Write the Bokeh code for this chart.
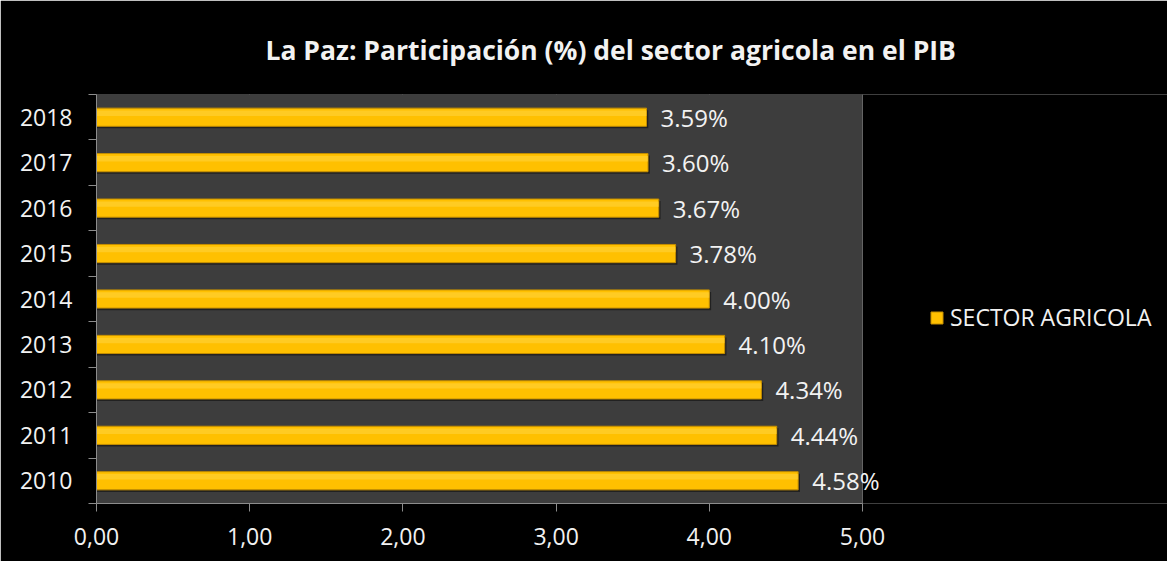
from bokeh.plotting import figure
from bokeh.models import FixedTicker, Legend, LegendItem, ColumnDataSource, Title
from bokeh.embed import file_html
from bokeh.resources import INLINE

years = ["2010", "2011", "2012", "2013", "2014", "2015", "2016", "2017", "2018"]
values = [4.58, 4.44, 4.34, 4.10, 4.00, 3.78, 3.67, 3.60, 3.59]
x_ticks = [0, 1, 2, 3, 4, 5]
series_name = "SECTOR AGRICOLA"
title_text = "La Paz: Participación  (%) del sector agricola  en el PIB"

FONT = "Open Sans"
WHITE = "#F2F2F2"
GRID = "#8C8C8C"
PLOT_BG = "#3D3D3D"

W, H = 1167, 561
LEFT, TOP, BOTTOM = 96, 94, 58
AXIS_W = 766  # pixel width of the 0..5 axis
frame_w = W - LEFT
x_max = x_ticks[-1]
x_end = x_max * frame_w / AXIS_W
BAR_H = 0.4

ypos = [i + 0.5 for i in range(len(years))]
src = ColumnDataSource(dict(y=ypos, v=values, lab=[f"{v:.2f}%" for v in values],
                            ys=[y - 0.045 for y in ypos], vs=[v + 0.012 for v in values],
                            yh=[y + BAR_H * 0.22 for y in ypos]))

p = figure(width=W, height=H, x_range=(0, x_end), y_range=(0, len(years)),
           output_backend="svg", toolbar_location=None,
           min_border_left=LEFT, min_border_right=0, min_border_top=TOP, min_border_bottom=BOTTOM)
p.background_fill_color = "#000000"
p.border_fill_color = "#000000"
p.outline_line_color = None

t = Title(text=title_text, align="left", offset=169, text_color=WHITE,
          text_font=FONT, text_font_size="26.5px", text_font_style="bold", standoff=54)
p.add_layout(t, "above")

# plot area (only over the 0..5 axis span)
p.quad(left=0, right=x_max, bottom=0, top=len(years), fill_color=PLOT_BG, line_color=None)

p.xgrid.ticker = FixedTicker(ticks=x_ticks)
p.xgrid.grid_line_color = GRID
p.ygrid.grid_line_color = None
p.xgrid.level = "underlay"

# shadow, bar, highlight
p.hbar(y="ys", right="vs", left=0, height=BAR_H, source=src,
       fill_color="#000000", fill_alpha=0.45, line_color=None)
r = p.hbar(y="y", right="v", left=0, height=BAR_H, source=src,
           fill_color="#FFC000", line_color="#C48E00", line_width=1)
p.hbar(y="yh", right="v", left=0, height=BAR_H * 0.3, source=src,
       fill_color="#FFD23A", fill_alpha=0.6, line_color=None)

p.text(x="v", y="y", text="lab", source=src, x_offset=14, text_baseline="middle",
       text_color=WHITE, text_font_size="24px", text_font={"value": FONT})

# axes
p.xaxis.ticker = FixedTicker(ticks=x_ticks)
p.xaxis.bounds = (0, x_max)
p.xaxis.major_label_overrides = {t_: f"{t_:.2f}".replace(".", ",") for t_ in x_ticks}
p.yaxis.ticker = FixedTicker(ticks=ypos, minor_ticks=list(range(len(years) + 1)))
p.yaxis.major_label_overrides = {y_: yr for y_, yr in zip(ypos, years)}
for ax in (p.xaxis, p.yaxis):
    ax.axis_line_color = GRID
    ax.major_tick_line_color = GRID
    ax.minor_tick_line_color = GRID
    ax.major_label_text_color = WHITE
    ax.major_label_text_font = FONT
    ax.major_label_text_font_size = "23px"
    ax.major_tick_in = 0
    ax.minor_tick_in = 0
p.xaxis.major_tick_out = 8
p.xaxis.minor_tick_out = 0
p.xaxis.major_label_standoff = 16
p.yaxis.major_tick_out = 0
p.yaxis.minor_tick_out = 8
p.yaxis.major_label_standoff = 16

legend = Legend(items=[LegendItem(label=series_name, renderers=[r])],
                location=(833, 170), background_fill_alpha=0, border_line_color=None,
                label_text_color=WHITE, label_text_font=FONT, label_text_font_size="23px",
                glyph_width=15, glyph_height=15, padding=0, margin=0, label_standoff=6)
p.add_layout(legend, "center")

open("out.html", "w").write(file_html(p, INLINE))
